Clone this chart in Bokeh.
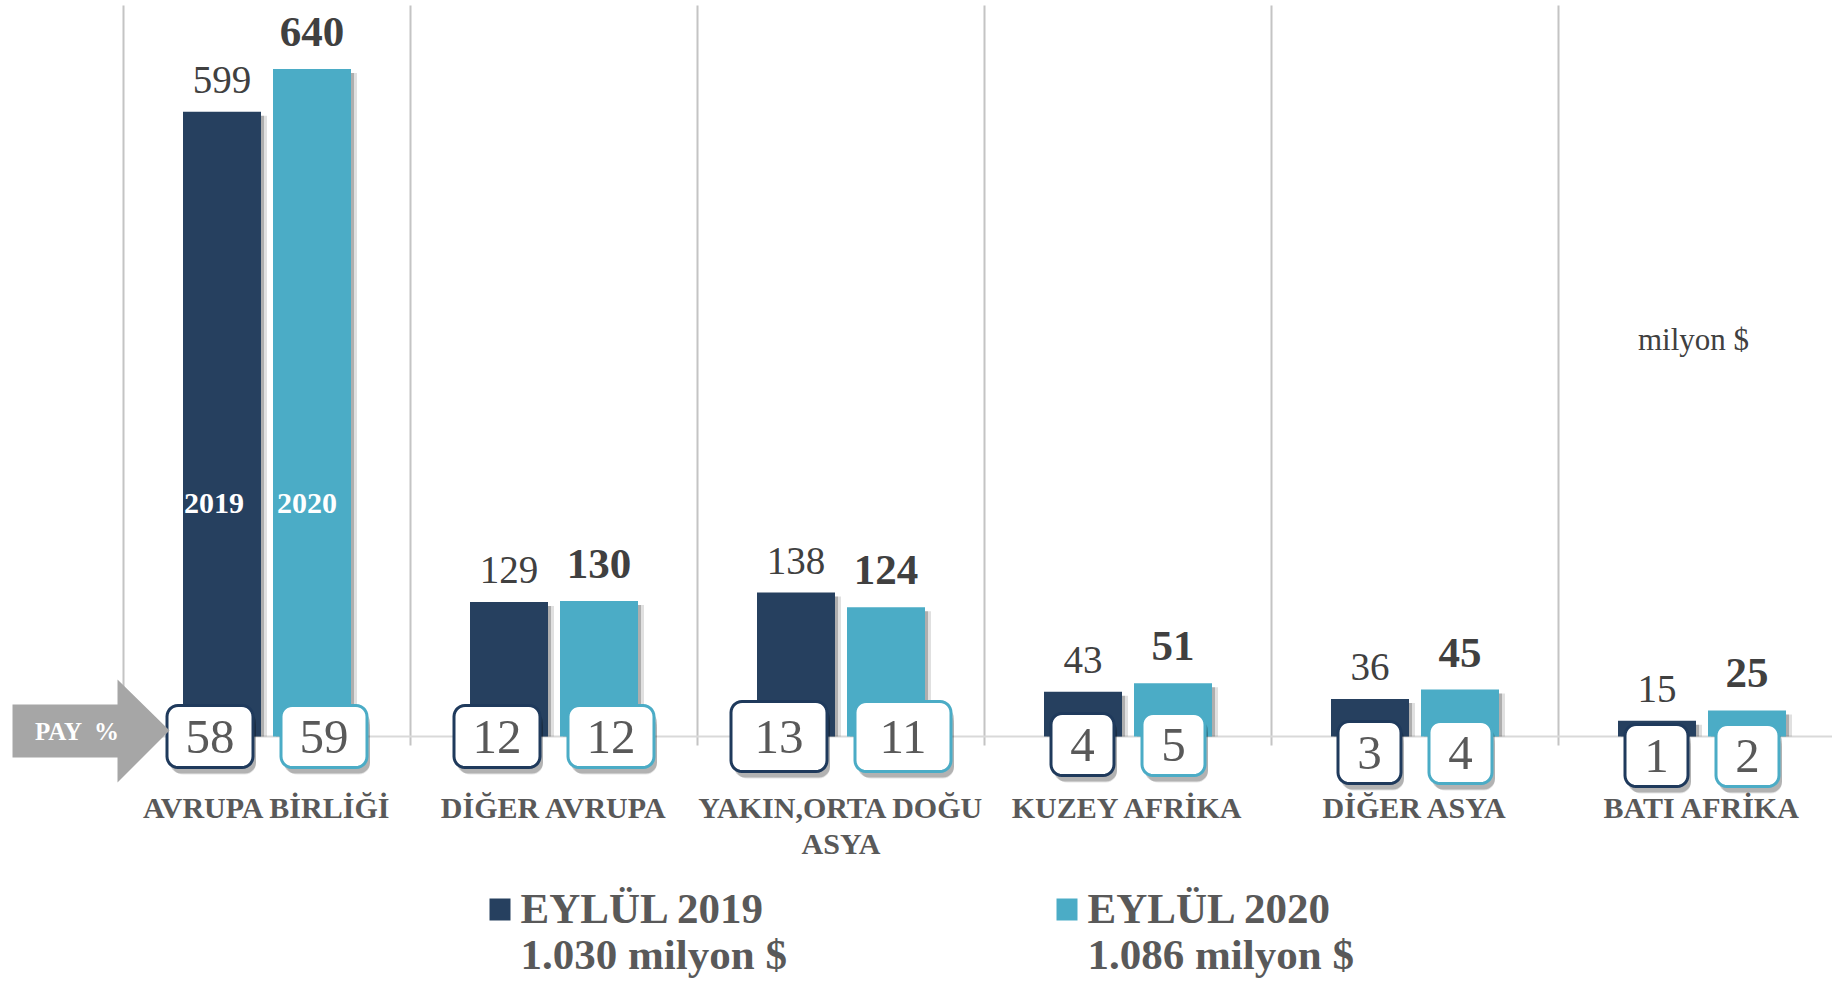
import numpy as np
from bokeh.plotting import figure
from bokeh.models import Range1d
from bokeh.core.properties import value
from bokeh.embed import file_html
from bokeh.resources import INLINE

# ---------------- data ----------------
categories = ["AVRUPA BİRLİĞİ", "DİĞER AVRUPA", "YAKIN,ORTA DOĞU\nASYA",
              "KUZEY AFRİKA", "DİĞER ASYA", "BATI AFRİKA"]
series_names = ["EYLÜL 2019", "EYLÜL 2020"]
series_totals = ["1.030 milyon $", "1.086 milyon $"]
values_2019 = [599, 129, 138, 43, 36, 15]
values_2020 = [640, 130, 124, 51, 45, 25]
share_2019 = [58, 12, 13, 4, 3, 1]
share_2020 = [59, 12, 11, 5, 4, 2]
bar_year_labels = ["2019", "2020"]
unit_label = "milyon $"
share_label = "PAY  %"

# ---------------- layout / style ----------------
W, H = 1832, 978
PXX = 287.0              # px per category
PXY = 1.043              # px per value unit
XB = 123                 # px of first category boundary
YB = 736                 # px of baseline

DARK = "#26405f"
DARK_EDGE = "#1f3a5c"
LIGHT = "#4bacc6"
GRID = "#c4c4c4"
BASE = "#d9d9d9"
TXT = "#595959"
VAL = "#404040"
FONT = value("Liberation Serif")

def dx(px): return px / PXX
def dy(px): return px / PXY
def RX(x): return (x - XB) / PXX
def RY(y): return (YB - y) / PXY

p = figure(width=W, height=H, output_backend="svg", toolbar_location=None,
           x_range=Range1d(RX(0), RX(W)), y_range=Range1d(RY(H), RY(0)),
           x_axis_type=None, y_axis_type=None, min_border=0,
           outline_line_color=None, background_fill_color="white")
p.grid.visible = False

n = len(categories)
cx = np.arange(n) + 0.5
off = dx(45)
bw = dx(78)
v19 = np.array(values_2019, dtype=float)
v20 = np.array(values_2020, dtype=float)

# vertical separators and baseline
bounds = np.arange(n)
p.segment(x0=bounds, x1=bounds, y0=[RY(745)] * n, y1=[RY(5)] * n,
          line_color=GRID, line_width=2)
p.segment(x0=[RX(110)], x1=[RX(W)], y0=[0], y1=[0], line_color=BASE, line_width=2)

# bar shadows
for sh, a in ((dx(3), 0.22), (dx(6), 0.12)):
    p.vbar(x=cx - off + sh, width=bw, top=v19 - dy(4), bottom=0, fill_color="#000000",
           fill_alpha=a, line_color=None)
    p.vbar(x=cx + off + sh, width=bw, top=v20 - dy(4), bottom=0, fill_color="#000000",
           fill_alpha=a, line_color=None)

# bars
p.vbar(x=cx - off, width=bw, top=v19, bottom=0, fill_color=DARK, line_color=None)
p.vbar(x=cx + off, width=bw, top=v20, bottom=0, fill_color=LIGHT, line_color=None)

# value labels
p.text(x=cx - off, y=v19 + dy(32), text=[str(v) for v in values_2019],
       text_font=FONT, text_font_size="39px", text_color=VAL,
       text_align="center", text_baseline="middle")
p.text(x=cx + off, y=v20 + dy(37), text=[str(v) for v in values_2020],
       text_font=FONT, text_font_size="43px", text_font_style="bold", text_color=VAL,
       text_align="center", text_baseline="middle")

# year labels inside the first pair of bars
p.text(x=[cx[0] - off - dx(8)], y=[RY(503)], text=[bar_year_labels[0]],
       text_font=FONT, text_font_size="30px", text_font_style="bold",
       text_color="white", text_align="center", text_baseline="middle")
p.text(x=[cx[0] + off - dx(5)], y=[RY(503)], text=[bar_year_labels[1]],
       text_font=FONT, text_font_size="30px", text_font_style="bold",
       text_color="white", text_align="center", text_baseline="middle")

# share boxes
box_w = [86, 86, 96, 63, 63, 63]
box_h = [62, 62, 70, 62, 62, 62]
box_drop = [0, 0, 0, 8, 16, 19]

def rrect(xc, yc, w, h, r=11, k=8):
    pts = []
    corners = [(w / 2 - r, h / 2 - r, 0), (-w / 2 + r, h / 2 - r, 90),
               (-w / 2 + r, -h / 2 + r, 180), (w / 2 - r, -h / 2 + r, 270)]
    for (ox, oy, a0) in corners:
        for t in np.linspace(np.radians(a0), np.radians(a0 + 90), k):
            pts.append((ox + r * np.cos(t), oy + r * np.sin(t)))
    xs = [xc + dx(px) for px, _ in pts]
    ys = [yc + dy(py) for _, py in pts]
    return xs, ys

for shares, sign, edge in ((share_2019, -1, DARK_EDGE), (share_2020, 1, LIGHT)):
    xs, ys, sxs, sys_, sxs2, sys2, tx, ty = [], [], [], [], [], [], [], []
    for i in range(n):
        sep = max(45, box_w[i] / 2 + 14)
        bx = cx[i] + sign * dx(sep)
        by = -dy(box_drop[i])
        a, b = rrect(bx, by, box_w[i], box_h[i])
        xs.append(a); ys.append(b)
        a, b = rrect(bx + dx(3), by - dy(6), box_w[i], box_h[i])
        sxs.append(a); sys_.append(b)
        a, b = rrect(bx + dx(4), by - dy(9), box_w[i] - 2, box_h[i] - 4)
        sxs2.append(a); sys2.append(b)
        tx.append(bx); ty.append(by)
    p.patches(xs=sxs2, ys=sys2, fill_color="#000000", fill_alpha=0.10, line_color=None)
    p.patches(xs=sxs, ys=sys_, fill_color="#000000", fill_alpha=0.22, line_color=None)
    p.patches(xs=xs, ys=ys, fill_color="white", line_color=edge, line_width=3)
    p.text(x=tx, y=ty, text=[str(s) for s in shares], text_font=FONT,
           text_font_size="49px", text_color=TXT, text_align="center",
           text_baseline="middle")

# PAY % arrow
arrow_px = [(12, 704), (117, 704), (117, 679), (169, 730), (117, 782), (117, 757), (12, 757)]
p.patch(x=[RX(a) for a, _ in arrow_px], y=[RY(b) for _, b in arrow_px],
        fill_color="#a6a6a6", line_color=None)
pay_parts = share_label.split()
p.text(x=[RX(58), RX(106)], y=[RY(731)] * 2, text=pay_parts, text_font=FONT,
       text_font_size="25px", text_font_style="bold", text_color="white",
       text_align="center", text_baseline="middle")

# category labels
lx, ly, lt = [], [], []
for i, c in enumerate(categories):
    for j, line in enumerate(c.split("\n")):
        lx.append(cx[i]); ly.append(RY(807 + 36 * j)); lt.append(line)
p.text(x=lx, y=ly, text=lt, text_font=FONT, text_font_size="30px",
       text_font_style="bold", text_color=TXT, text_align="center",
       text_baseline="middle")

# unit label
p.text(x=[RX(1693)], y=[RY(339)], text=[unit_label], text_font=FONT,
       text_font_size="31px", text_color=VAL, text_align="center",
       text_baseline="middle")

# legend
leg_x = [489, 1056]
for k, col in enumerate((DARK, LIGHT)):
    p.quad(left=[RX(leg_x[k])], right=[RX(leg_x[k] + 21)], top=[RY(898)], bottom=[RY(920)],
           fill_color=col, line_color=None)
    p.text(x=[RX(leg_x[k] + 31)], y=[RY(908)], text=[series_names[k]], text_font=FONT,
           text_font_size="43px", text_font_style="bold", text_color=TXT,
           text_align="left", text_baseline="middle")
    p.text(x=[RX(leg_x[k] + 31)], y=[RY(954)], text=[series_totals[k]], text_font=FONT,
           text_font_size="43px", text_font_style="bold", text_color=TXT,
           text_align="left", text_baseline="middle")

open("out.html", "w").write(file_html(p, INLINE))
